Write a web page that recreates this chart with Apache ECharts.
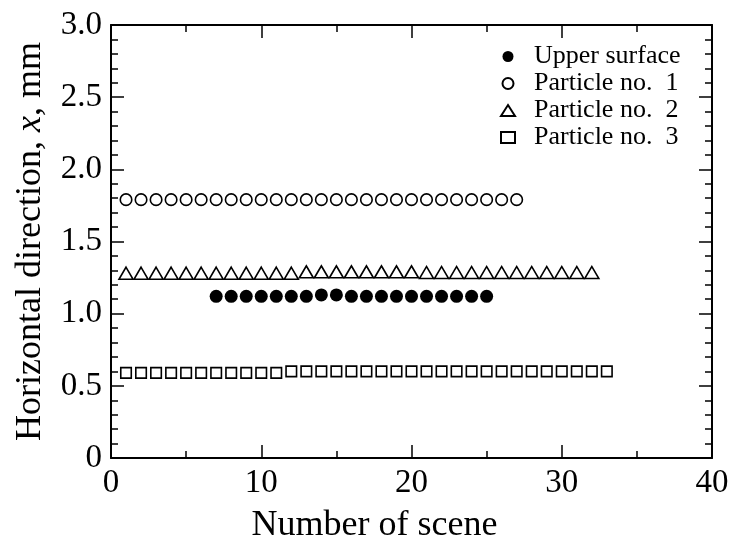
<!DOCTYPE html>
<html>
<head>
<meta charset="utf-8">
<script src="https://cdn.jsdelivr.net/npm/echarts@6/dist/echarts.min.js"></script>
<style>
  html, body { margin: 0; padding: 0; background: #fff; }
  #chart { width: 735px; height: 550px; }
</style>
</head>
<body>
<div id="chart"></div>
<script>
// Scene numbers and horizontal positions (mm) of each tracked object
const upperScenes = [7, 8, 9, 10, 11, 12, 13, 14, 15, 16, 17, 18, 19, 20, 21, 22, 23, 24, 25];
const upperX = [1.12, 1.12, 1.12, 1.12, 1.12, 1.12, 1.12, 1.13, 1.13, 1.12, 1.12, 1.12, 1.12, 1.12, 1.12, 1.12, 1.12, 1.12, 1.12];

const p1Scenes = [1, 2, 3, 4, 5, 6, 7, 8, 9, 10, 11, 12, 13, 14, 15, 16, 17, 18, 19, 20, 21, 22, 23, 24, 25, 26, 27];
const p1X = [1.79, 1.79, 1.79, 1.79, 1.79, 1.79, 1.79, 1.79, 1.79, 1.79, 1.79, 1.79, 1.79, 1.79, 1.79, 1.79, 1.79, 1.79, 1.79, 1.79, 1.79, 1.79, 1.79, 1.79, 1.79, 1.79, 1.79];

const p2Scenes = [1, 2, 3, 4, 5, 6, 7, 8, 9, 10, 11, 12, 13, 14, 15, 16, 17, 18, 19, 20, 21, 22, 23, 24, 25, 26, 27, 28, 29, 30, 31, 32];
const p2X = [1.28, 1.28, 1.28, 1.28, 1.28, 1.28, 1.28, 1.28, 1.28, 1.28, 1.28, 1.28, 1.29, 1.29, 1.29, 1.29, 1.29, 1.29, 1.29, 1.29, 1.285, 1.285, 1.285, 1.285, 1.285, 1.285, 1.285, 1.285, 1.285, 1.285, 1.285, 1.285];

const p3Scenes = [1, 2, 3, 4, 5, 6, 7, 8, 9, 10, 11, 12, 13, 14, 15, 16, 17, 18, 19, 20, 21, 22, 23, 24, 25, 26, 27, 28, 29, 30, 31, 32, 33];
const p3X = [0.59, 0.59, 0.59, 0.59, 0.59, 0.59, 0.59, 0.59, 0.59, 0.59, 0.59, 0.60, 0.60, 0.60, 0.60, 0.60, 0.60, 0.60, 0.60, 0.60, 0.60, 0.60, 0.60, 0.60, 0.60, 0.60, 0.60, 0.60, 0.60, 0.60, 0.60, 0.60, 0.60];

const seriesNames = ['Upper surface', 'Particle no.  1', 'Particle no.  2', 'Particle no.  3'];

const xTicks = { min: 0, max: 40, interval: 10 };
const yTicks = { min: 0, max: 3, interval: 0.5 };

const FONT = "'Liberation Serif', 'Times New Roman', serif";

function pairs(xs, ys) { return xs.map((x, i) => [x, ys[i]]); }

function frameAxis(extra) {
  return Object.assign({
    axisLine: { show: true, onZero: false, lineStyle: { color: '#000', width: 2 } },
    axisTick: { show: true, inside: true, length: 13, lineStyle: { color: '#000', width: 1.5 } },
    minorTick: { show: true, length: 7, lineStyle: { color: '#000', width: 1.5 } },
    splitLine: { show: false },
    minorSplitLine: { show: false }
  }, extra);
}

const chart = echarts.init(document.getElementById('chart'), null, { renderer: 'canvas' });

const hollow = { color: '#fff', borderColor: '#000', borderWidth: 1.6, opacity: 1 };

chart.setOption({
  animation: false,
  backgroundColor: '#fff',
  textStyle: { fontFamily: FONT, color: '#000' },
  grid: { left: 111, right: 23, top: 25, bottom: 92, containLabel: false },
  legend: {
    orient: 'vertical',
    left: 500,
    top: 43,
    padding: 0,
    itemGap: 0,
    itemWidth: 14,
    itemHeight: 11,
    textStyle: { fontFamily: FONT, fontSize: 26, color: '#000', lineHeight: 27, padding: [0, 0, 0, 14] },
    data: seriesNames.map(n => ({ name: n }))
  },
  xAxis: [
    frameAxis({
      type: 'value', position: 'bottom', min: xTicks.min, max: xTicks.max, interval: xTicks.interval,
      minorTick: { show: true, splitNumber: 2, length: 7, lineStyle: { color: '#000', width: 1.5 } },
      axisLabel: { fontFamily: FONT, fontSize: 33, color: '#000', margin: 9 },
      name: 'Number of scene', nameLocation: 'middle', nameGap: 50,
      nameTextStyle: { fontFamily: FONT, fontSize: 36, color: '#000', padding: [0, 74, 0, 0] }
    }),
    frameAxis({
      type: 'value', position: 'top', min: xTicks.min, max: xTicks.max, interval: xTicks.interval,
      minorTick: { show: true, splitNumber: 2, length: 7, lineStyle: { color: '#000', width: 1.5 } },
      axisLabel: { show: false }
    })
  ],
  yAxis: [
    frameAxis({
      type: 'value', position: 'left', min: yTicks.min, max: yTicks.max, interval: yTicks.interval,
      minorTick: { show: true, splitNumber: 5, length: 7, lineStyle: { color: '#000', width: 1.5 } },
      axisLabel: {
        fontFamily: FONT, fontSize: 33, color: '#000', margin: 9,
        formatter: v => (v === 0 ? '0' : v.toFixed(1))
      },
      name: '{a|Horizontal direction, }{i|x}{a|, mm}',
      nameLocation: 'middle', nameGap: 62, nameRotate: 90,
      nameTextStyle: {
        rich: {
          a: { fontFamily: FONT, fontSize: 36, color: '#000' },
          i: { fontFamily: FONT, fontSize: 36, color: '#000', fontStyle: 'italic' }
        }
      }
    }),
    frameAxis({
      type: 'value', position: 'right', min: yTicks.min, max: yTicks.max, interval: yTicks.interval,
      minorTick: { show: true, splitNumber: 5, length: 7, lineStyle: { color: '#000', width: 1.5 } },
      axisLabel: { show: false }
    })
  ],
  series: [
    {
      name: seriesNames[0], type: 'scatter', symbol: 'circle', symbolSize: 13,
      itemStyle: { color: '#000', borderColor: '#000', borderWidth: 0, opacity: 1 },
      data: pairs(upperScenes, upperX)
    },
    {
      name: seriesNames[1], type: 'scatter', symbol: 'circle', symbolSize: 11.5,
      itemStyle: hollow,
      data: pairs(p1Scenes, p1X)
    },
    {
      name: seriesNames[2], type: 'scatter', symbol: 'triangle', symbolSize: [14, 12],
      itemStyle: hollow,
      data: pairs(p2Scenes, p2X)
    },
    {
      name: seriesNames[3], type: 'scatter', symbol: 'rect', symbolSize: 10.5,
      itemStyle: hollow,
      data: pairs(p3Scenes, p3X)
    }
  ]
});
</script>
</body>
</html>
